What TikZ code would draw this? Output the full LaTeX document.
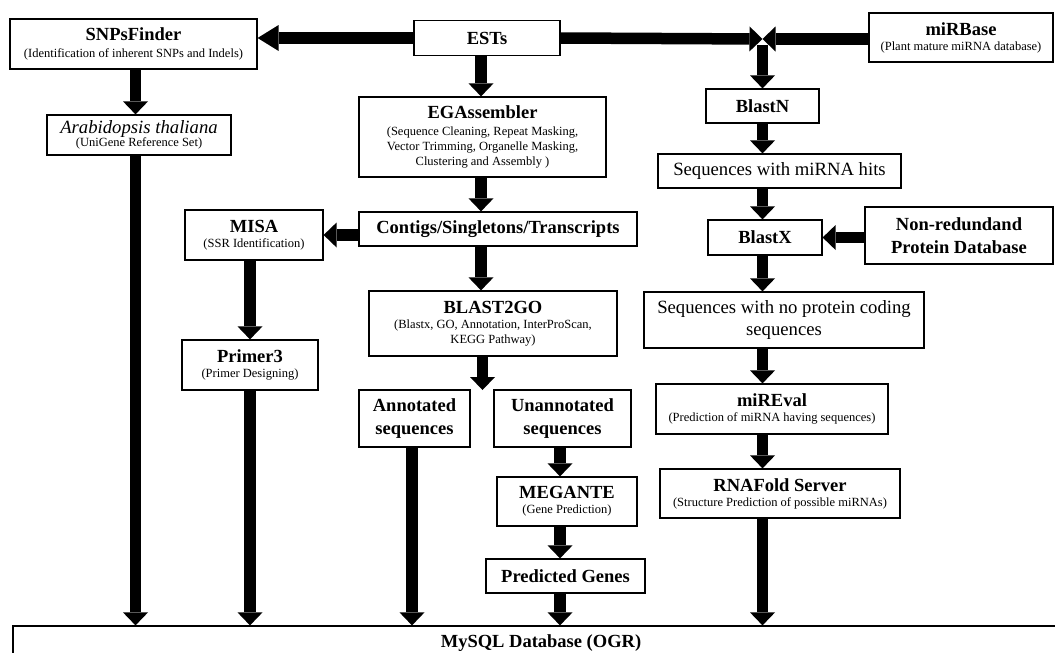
\documentclass[tikz,border=0pt]{standalone}
\usepackage{fontspec}
\setmainfont{Liberation Serif}
\usetikzlibrary{arrows.meta,positioning}

\newcommand{\hd}[1]{{\fontsize{18.5}{20}\selectfont\bfseries #1}}

\begin{document}
\begin{tikzpicture}[
  x=1pt, y=-1pt,
  box/.style={draw, line width=1.2pt, align=center, inner sep=2pt,
    font=\fontsize{12.5}{15}\selectfont},
  big/.style={box, font=\fontsize{18.7}{22}\selectfont},
  bigb/.style={box, font=\fontsize{18.5}{23}\selectfont\bfseries},
  arr/.style={line width=11.5pt, -{Triangle[width=25pt, length=13pt, line width=0pt]}}
]
\useasboundingbox (0,0) rectangle (1055,653);
\clip (0,0) rectangle (1055,653);

\node[box, minimum width=247pt, minimum height=50pt] (snps) at (133.5,44) {\hd{SNPsFinder}\\[2pt](Identification of inherent SNPs and Indels)};
\node[bigb, minimum width=146pt, minimum height=35pt] (ests) at (487,38) {ESTs};
\node[box, minimum width=184pt, minimum height=49pt] (mirbase) at (961,37.5) {\hd{miRBase}\\(Plant mature miRNA database)};
\node[box, minimum width=184pt, minimum height=40pt] (arab) at (139,135) {{\fontsize{18.7}{20}\selectfont\itshape Arabidopsis thaliana}\\[-2pt](UniGene Reference Set)};
\node[box, minimum width=247pt, minimum height=80pt] (ega) at (482.5,137) {\hd{EGAssembler}\\[2pt](Sequence Cleaning, Repeat Masking,\\Vector Trimming, Organelle Masking,\\Clustering and Assembly )};
\node[bigb, minimum width=113pt, minimum height=34pt] (blastn) at (762.5,106) {BlastN};
\node[big, minimum width=243pt, minimum height=34pt] (hits) at (779.5,171) {Sequences with miRNA hits};
\node[bigb, minimum width=278pt, minimum height=34pt] (contigs) at (498,229) {Contigs/Singletons/Transcripts};
\node[box, minimum width=138pt, minimum height=50pt] (misa) at (254,235) {\hd{MISA}\\(SSR Identification)};
\node[bigb, minimum width=114pt, minimum height=35pt] (blastx) at (765,237.5) {BlastX};
\node[bigb, minimum width=188pt, minimum height=57pt] (nrdb) at (959,235.5) {Non-redundand\\Protein Database};
\node[box, minimum width=248pt, minimum height=65pt] (b2go) at (493,323.5) {\hd{BLAST2GO}\\(Blastx, GO, Annotation, InterProScan,\\KEGG Pathway)};
\node[big, minimum width=280pt, minimum height=56pt] (noprot) at (784,320) {Sequences with no protein coding\\sequences};
\node[box, minimum width=136pt, minimum height=50pt] (primer) at (250,365) {\hd{Primer3}\\(Primer Designing)};
\node[bigb, minimum width=111pt, minimum height=57pt] (annot) at (414.5,418.5) {Annotated\\sequences};
\node[bigb, minimum width=137pt, minimum height=57pt] (unannot) at (562.5,418.5) {Unannotated\\sequences};
\node[box, minimum width=232pt, minimum height=50pt] (mireval) at (772,409) {\hd{miREval}\\(Prediction of miRNA having sequences)};
\node[box, minimum width=140pt, minimum height=49pt] (megante) at (567,501.5) {\hd{MEGANTE}\\(Gene Prediction)};
\node[box, minimum width=240pt, minimum height=49pt] (rnafold) at (780,493.5) {\hd{RNAFold Server}\\(Structure Prediction of possible miRNAs)};
\node[bigb, minimum width=159pt, minimum height=34pt] (pred) at (565.5,576) {Predicted Genes};
\node[bigb, minimum width=1056pt, minimum height=35pt] (db) at (541,643.5) {MySQL Database (OGR)};

\coordinate (cA) at (135.5,0);
\coordinate (cM) at (250,0);
\coordinate (cN) at (412,0);
\coordinate (cE) at (481,0);
\coordinate (cU) at (560,0);
\coordinate (cR) at (762.5,0);
\coordinate (jn) at (762.5,39);
\coordinate (split) at (482.5,390);

\draw[arr, -{Triangle[width=26pt, length=21pt, line width=0pt]}] (ests.west) -- (snps.east |- ests.west);
\draw[arr] (ests.east) -- (jn);
\draw[arr] (mirbase.west |- jn) -- (jn);
\draw[arr] ([yshift=-6pt]jn) -- (blastn.north -| jn);
\draw[arr] (snps.south -| cA) -- (arab.north -| cA);
\draw[arr] (arab.south -| cA) -- (db.north -| cA);
\draw[arr] (ests.south -| cE) -- (ega.north -| cE);
\draw[arr] (ega.south -| cE) -- (contigs.north -| cE);
\draw[arr] (contigs.west |- misa.east) -- (misa.east);
\draw[arr] (misa.south -| cM) -- (primer.north -| cM);
\draw[arr] (primer.south -| cM) -- (db.north -| cM);
\draw[arr] (contigs.south -| cE) -- (b2go.north -| cE);
\draw[arr] (b2go.south -| split) -- (split);
\draw[arr] (annot.south -| cN) -- (db.north -| cN);
\draw[arr] (unannot.south -| cU) -- (megante.north -| cU);
\draw[arr] (megante.south -| cU) -- (pred.north -| cU);
\draw[arr] (pred.south -| cU) -- (db.north -| cU);
\draw[arr] (blastn.south -| cR) -- (hits.north -| cR);
\draw[arr] (hits.south -| cR) -- (blastx.north -| cR);
\draw[arr] (nrdb.west |- blastx.east) -- (blastx.east);
\draw[arr] (blastx.south -| cR) -- (noprot.north -| cR);
\draw[arr] (noprot.south -| cR) -- (mireval.north -| cR);
\draw[arr] (mireval.south -| cR) -- (rnafold.north -| cR);
\draw[arr] (rnafold.south -| cR) -- (db.north -| cR);
\end{tikzpicture}
\end{document}
